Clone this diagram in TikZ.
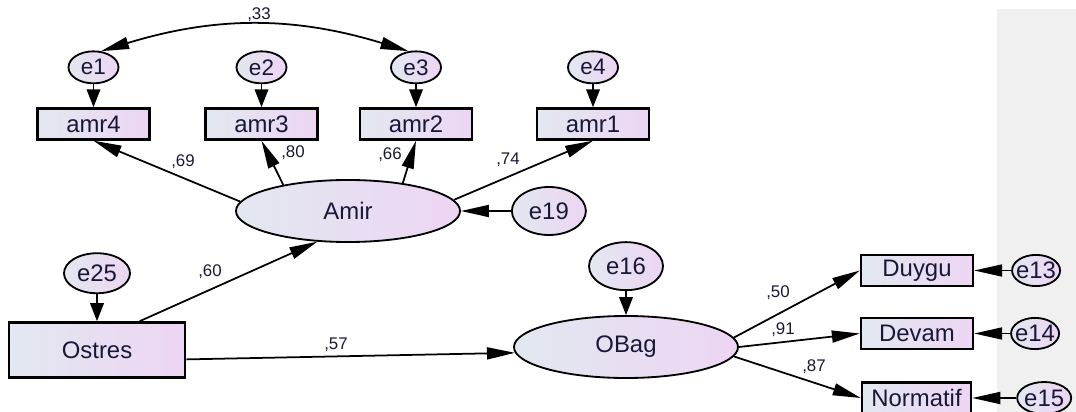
\documentclass[tikz,border=0pt]{standalone}
\usepackage{xcolor}
\usepackage{fontspec}
\setmainfont{Liberation Sans}
\usepackage{tikz}
\usetikzlibrary{shapes.geometric, arrows.meta, positioning}
\definecolor{mydark}{RGB}{25,25,55}
\definecolor{amosblue}{RGB}{226,232,240}
\definecolor{amospink}{RGB}{237,213,243}
\definecolor{panelgray}{RGB}{240,240,240}
\tikzset{
  obsbox/.style={rectangle, draw=black, left color=amosblue, right color=amospink,
    minimum width=2.8cm, minimum height=0.78cm, inner sep=0pt,
    font=\fontsize{17}{20}\selectfont, text=mydark, line width=1.6pt},
  latent/.style={ellipse, draw=black, left color=amosblue, right color=amospink,
    minimum width=5.6cm, minimum height=1.55cm, inner sep=0pt,
    font=\fontsize{17}{20}\selectfont, text=mydark, line width=1.3pt},
  errnode/.style={ellipse, draw=black, left color=amosblue, right color=amospink,
    minimum width=1.25cm, minimum height=0.8cm, inner sep=0pt,
    font=\fontsize{16}{18}\selectfont, text=mydark, line width=1.3pt},
  bigerr/.style={errnode, minimum width=1.85cm, minimum height=1.2cm,
    font=\fontsize{17}{20}\selectfont},
  coef/.style={font=\fontsize{12}{14}\selectfont, text=mydark, inner sep=1pt},
  arrow/.style={-{Triangle[length=0.7cm, width=0.3cm]}, line width=1.25pt, color=black},
  shortarrow/.style={-{Triangle[length=0.45cm, width=0.34cm]}, line width=1.25pt, color=black},
  covarrow/.style={{Triangle[length=0.7cm, width=0.3cm]}-{Triangle[length=0.7cm, width=0.3cm]},
    line width=1.25pt, color=black}
}

\begin{document}
\begin{tikzpicture}[x=0.025cm, y=-0.025cm]
  \useasboundingbox (0,0) rectangle (1076,412);
  \fill[panelgray] (997,9) rectangle (1076,412);

  % Indicators of Amir
  \node[obsbox] (amr4) at (93.5,124) {amr4};
  \node[obsbox] (amr3) at (261.5,124) {amr3};
  \node[obsbox] (amr2) at (416,124) {amr2};
  \node[obsbox] (amr1) at (593,124) {amr1};

  % Error terms of the indicators
  \node[errnode, above=0.575cm of amr4] (e1) {e1};
  \node[errnode, above=0.575cm of amr3] (e2) {e2};
  \node[errnode, above=0.575cm of amr2] (e3) {e3};
  \node[errnode, above=0.575cm of amr1] (e4) {e4};

  % Latent variables
  \node[latent] (Amir) at (348,211) {Amir};
  \node[bigerr, right=1.25cm of Amir] (e19) {e19};
  \node[latent] (OBag) at (626,347) {OBag};
  \node[bigerr, above=0.6cm of OBag] (e16) {e16};

  % Exogenous
  \node[obsbox, minimum width=4.4cm, minimum height=1.375cm, line width=1.9pt] (Ostres) at (97,350) {Ostres};
  \node[bigerr, minimum width=1.65cm, minimum height=1.0cm, above=0.675cm of Ostres] (e25) {e25};

  % Indicators of OBag
  \node[obsbox] (Duygu) at (917,270.5) {Duygu};
  \node[obsbox] (Devam) at (917,333.5) {Devam};
  \node[obsbox, minimum width=2.73cm] (Normatif) at (916.5,398) {Normatif};
  \node[errnode, minimum width=1.2cm, minimum height=0.78cm, inner xsep=-3pt, font=\fontsize{17}{20}\selectfont, right=0.925cm of Duygu] (e13) {e13};
  \node[errnode, minimum width=1.2cm, minimum height=0.78cm, inner xsep=-3pt, font=\fontsize{17}{20}\selectfont, right=0.9cm of Devam] (e14) {e14};
  \node[errnode, minimum width=1.35cm, minimum height=0.8cm, inner xsep=-3pt, font=\fontsize{17}{20}\selectfont, right=1.1cm of Normatif] (e15) {e15};

  % Arrows: errors to indicators
  \draw[shortarrow] (e1) -- (amr4);
  \draw[shortarrow] (e2) -- (amr3);
  \draw[shortarrow] (e3) -- (amr2);
  \draw[shortarrow] (e4) -- (amr1);
  \draw[covarrow] (e1.65) to[bend left=17] (e3.115);

  % Arrows: loadings of Amir
  \draw[arrow] (Amir.175) -- (amr4.south);
  \draw[arrow] (Amir.158) -- (amr3.south);
  \draw[arrow] (Amir.27) -- (amr2.south);
  \draw[arrow] (Amir.6) -- (amr1.south);
  \draw[arrow] (e19.west) -- (Amir.east);

  % Arrows: structural paths
  \draw[shortarrow] (e25) -- (Ostres);
  \draw[arrow] (Ostres.34) -- (Amir.225);
  \draw[arrow] (Ostres.-6) -- (OBag.183);
  \draw[shortarrow] (e16) -- (OBag);

  % Arrows: loadings of OBag
  \draw[arrow] (OBag.5) -- (Duygu.west);
  \draw[arrow] (OBag.east) -- (Devam.west);
  \draw[arrow] (OBag.-5) -- (Normatif.west);
  \draw[arrow] (e13.west) -- (Duygu.east);
  \draw[arrow] (e14.west) -- (Devam.east);
  \draw[arrow] (e15.west) -- (Normatif.east);

  % Coefficients
  \node[coef] (c33) at (259,15) {,33};
  \node[coef] (c69) at (183,162) {,69};
  \node[coef] (c80) at (293,153) {,80};
  \node[coef] (c66) at (390,155) {,66};
  \node[coef] (c74) at (508,160) {,74};
  \node[coef] (c60) at (210,272) {,60};
  \node[coef] (c57) at (336,345) {,57};
  \node[coef] (c50) at (778,293) {,50};
  \node[coef] (c91) at (783,330) {,91};
  \node[coef] (c87) at (814,367) {,87};
\end{tikzpicture}
\end{document}
